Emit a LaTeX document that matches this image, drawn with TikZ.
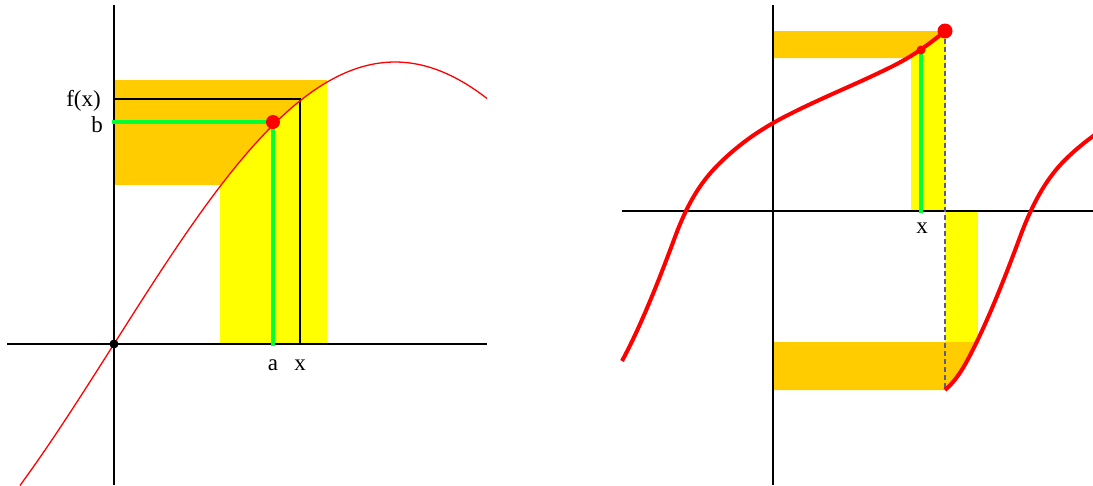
\documentclass[tikz,border=0pt]{standalone}
\usepackage{fontspec}
\setmainfont{Liberation Serif}
\definecolor{myorange}{RGB}{255,204,0}
\definecolor{myyellow}{RGB}{255,255,0}
\definecolor{mygreen}{RGB}{0,255,51}
\definecolor{myred}{RGB}{255,0,0}
\definecolor{dashgray}{RGB}{90,90,150}
\begin{document}
\begin{tikzpicture}[x=1pt,y=-1pt,
  axis/.style={line width=1.2pt, black},
  guide/.style={line width=1.2pt, black},
  hl/.style={line width=4.5pt, mygreen, line cap=rect},
  thincurve/.style={line width=1.3pt, myred},
  thickcurve/.style={line width=4pt, myred},
  dashline/.style={line width=1.3pt, dashgray, dash pattern=on 5pt off 3pt},
  lbl/.style={inner sep=0pt, font=\fontsize{23}{27}\selectfont},
  reddot/.style={circle, fill=myred, inner sep=0pt},
  blackdot/.style={circle, fill=black, inner sep=0pt, minimum size=9pt},
]
\useasboundingbox (0,0) rectangle (1093,485);

% ---------------- left panel ----------------
\coordinate (O) at (114,344);
\coordinate (P) at (273,122);
\coordinate (F) at (300,99);
\coordinate (Fy) at (114,99);
\coordinate (Fx) at (300,344);
\coordinate (By) at (114,122);
\coordinate (Ax) at (273,344);

\fill[myyellow] (220,80) rectangle (327,344);
\begin{scope}
  \clip plot[domain=114:340,samples=80] (\x,{344-282*sin(0.320285*(\x-114))}) -- (340,0) -- (114,0) -- cycle;
  \fill[myorange] (114,80) rectangle (327,185);
\end{scope}

\draw[axis] (7,344) -- (487,344);
\draw[axis] (114,5) -- (114,485);

\draw[guide] (Fy) -- (F) -- (Fx);
\draw[hl] (By) -- (P);
\draw[hl] (P) -- (Ax);

\draw[thincurve] plot[domain=20:487,samples=150] (\x,{344-282*sin(0.320285*(\x-114))});

\node[reddot, minimum size=14pt] (Pd) at (P) {};
\node[blackdot] (Od) at (O) {};

\node[lbl, anchor=base east] (lfx) at (101,106) {f(x)};
\node[lbl, anchor=base east] (lb) at (103,132) {b};
\node[lbl, anchor=base] (la) at (273,370) {a};
\node[lbl, anchor=base] (lx) at (300,370) {x};

% ---------------- right panel ----------------
\coordinate (Q) at (945,31);
\coordinate (S) at (921,50);
\coordinate (R0) at (945,390);
\coordinate (Sx) at (921,211);

\fill[myyellow] (911,31) rectangle (945,211);
\fill[myyellow] (945,211) rectangle (978,342);
\fill[myorange] (773,31) -- (945,31) -- (933,40.5) -- (921,50) -- (907,58) -- (773,58) -- cycle;
\fill[myorange] (773,342) -- (978,342) -- (967,361) -- (956,378) -- (945,390) -- (773,390) -- cycle;

\draw[axis] (622,211) -- (1093,211);
\draw[axis] (773,5) -- (773,485);

\draw[dashline] (Q) -- (R0);
\draw[hl] (S) -- (Sx);

\begin{scope}
  \clip (0,0) rectangle (1093,485);
  \draw[thickcurve] (622,361) .. controls (639.67,328.3) and (657.33,284.7) .. (675,237)
     .. controls (691,193.8) and (707,175.2) .. (723,160)
     .. controls (744.67,139.4) and (766.33,126.05) .. (788,115)
     .. controls (823,97.15) and (858,83.5) .. (893,66)
     .. controls (910.33,57.33) and (927.67,45.7) .. (Q);
  \draw[thickcurve] (R0) .. controls (952.33,383.8) and (959.67,374.6) .. (967,361)
     .. controls (984.67,328.3) and (1002.33,284.7) .. (1020,237)
     .. controls (1036,193.8) and (1052,172.2) .. (1068,157)
     .. controls (1089.67,136.4) and (1111.33,123) .. (1133,112);
\end{scope}

\node[reddot, minimum size=9pt] (Sd) at (S) {};
\node[reddot, minimum size=15pt] (Qd) at (Q) {};

\node[lbl, anchor=base] (rx) at (922,233) {x};
\end{tikzpicture}
\end{document}
